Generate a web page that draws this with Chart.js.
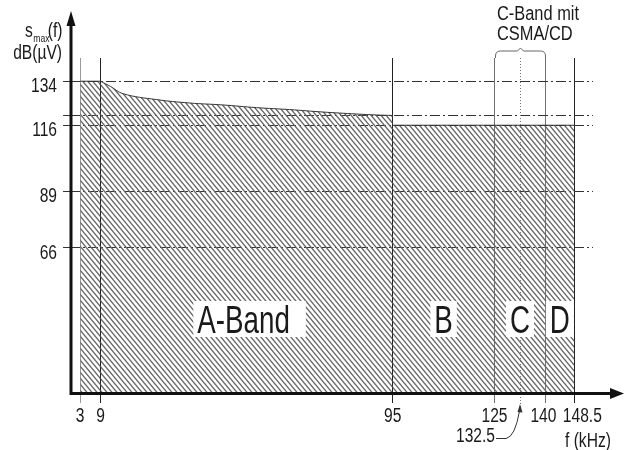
<!DOCTYPE html>
<html>
<head>
<meta charset="utf-8">
<script src="https://cdn.jsdelivr.net/npm/chart.js@4.4.0/dist/chart.umd.min.js"></script>
<style>
    html, body { margin: 0; padding: 0; background: #fff; }
    #chrtLimits { display: block; }
</style>
</head>
<body>
<canvas id="chrtLimits" width="630" height="450"></canvas>
<script>
// values (CENELEC EN 50065 band limits)
const xTicks = [3, 9, 95, 125, 140, 148.5];
const yTicks = [66, 89, 116, 120, 134];
const yTickLabels = ["66", "89", "116", "", "134"];
const bandNames = ["A-Band", "B", "C", "D"];
const bandEdges = [9, 95, 125, 140, 148.5];
const csmaFreq = 132.5;

// A-Band below 9 kHz
const lowFreqs = [3, 9];
const lowLevels = [134, 134];
// A-Band 9..95 kHz, falling limit
const curveFreqs = [9, 12, 15.6, 25.4, 35.2, 45, 54.9, 64.7, 74.5, 84.3, 90.2, 95];
const curveLevels = [134, 131.8, 128.9, 126.5, 125.1, 124.3, 123.2, 122.4, 121.4, 120.6, 120.2, 120];
// B, C, D bands
const upperFreqs = [95, 148.5];
const upperLevels = [116, 116];

((d) => {
    const CHRT = d.getElementById("chrtLimits");
    const FONT = '"Liberation Sans", Arial, sans-serif';
    const INK = "#1a1a1a";
    const SQ = 0.78; // the drawing uses a condensed face

    function toXY(xs, ys) {
        return xs.map((v, i) => ({ x: v, y: ys[i] }));
    }

    function makeHatch() {
        const w = 5, h = 6;
        const c = d.createElement("canvas");
        c.width = w; c.height = h;
        const g = c.getContext("2d");
        g.strokeStyle = "#666";
        g.lineWidth = 1.35;
        g.beginPath();
        for (const [ox, oy] of [[0, 0], [-w, 0], [w, 0], [0, -h], [0, h]]) {
            g.moveTo(ox, oy);
            g.lineTo(ox + w, oy + h);
        }
        g.stroke();
        return g.createPattern(c, "repeat");
    }
    const hatch = makeHatch();

    function areaSet(label, xs, ys, tension) {
        return {
            label: label,
            data: toXY(xs, ys),
            fill: "start",
            backgroundColor: hatch,
            borderColor: "#333",
            borderWidth: 1,
            pointRadius: 0,
            tension: tension
        };
    }

    function txt(ctx, s, x, y, size, align, sx) {
        ctx.save();
        ctx.font = size + "px " + FONT;
        ctx.textAlign = align || "left";
        ctx.textBaseline = "alphabetic";
        ctx.translate(x, y);
        ctx.scale(sx || SQ, 1);
        ctx.fillText(s, 0, 0);
        ctx.restore();
    }

    const decor = {
        id: "decor",
        afterDraw(chart) {
            const { ctx, chartArea: ca, scales: { x, y } } = chart;
            ctx.save();
            ctx.fillStyle = INK;

            // CSMA/CD centre line (dotted)
            const xc = Math.round(x.getPixelForValue(csmaFreq)) + 0.5;
            ctx.strokeStyle = "#777";
            ctx.lineWidth = 1;
            ctx.setLineDash([1, 2]);
            ctx.beginPath();
            ctx.moveTo(xc, ca.top);
            ctx.lineTo(xc, ca.bottom + 14);
            ctx.stroke();
            ctx.setLineDash([]);

            // bracket over C band
            const xl = Math.round(x.getPixelForValue(bandEdges[2])) + 0.5,
                xr = Math.round(x.getPixelForValue(bandEdges[3])) + 0.5,
                yt = ca.top - 7, r = 5;
            ctx.strokeStyle = "#666";
            ctx.beginPath();
            ctx.moveTo(xl, ca.top);
            ctx.lineTo(xl, yt + r);
            ctx.quadraticCurveTo(xl, yt, xl + r, yt);
            ctx.lineTo(xc - 3, yt);
            ctx.lineTo(xc, yt - 3);
            ctx.lineTo(xc + 3, yt);
            ctx.lineTo(xr - r, yt);
            ctx.quadraticCurveTo(xr, yt, xr, yt + r);
            ctx.lineTo(xr, ca.top);
            ctx.stroke();

            // band names on white boxes
            const base = ca.bottom - 60, bsx = 0.73;
            ctx.font = "38px " + FONT;
            for (let i = 0; i < bandNames.length; i++) {
                const cx = x.getPixelForValue((bandEdges[i] + bandEdges[i + 1]) / 2) - (i == 0 ? 3 : 0);
                const w = ctx.measureText(bandNames[i]).width * bsx;
                const extra = i == 0 ? 12 : 0;
                ctx.fillStyle = "#fff";
                ctx.fillRect(cx - w / 2 - 4, base - 32, w + 8 + extra, 36);
                ctx.fillStyle = INK;
                txt(ctx, bandNames[i], cx, base, 38, "center", bsx);
            }

            // tick labels, taken from the scales (last two pushed apart as in the drawing)
            for (const t of x.ticks) {
                const nudge = t.value == 148.5 ? 8 : (t.value == 140 ? -2 : 0);
                txt(ctx, String(t.value), x.getPixelForValue(t.value) + nudge, ca.bottom + 29, 20, "center");
            }
            for (const t of y.ticks) {
                const lab = yTickLabels[yTicks.indexOf(t.value)];
                if (lab) txt(ctx, lab, ca.left - 13, y.getPixelForValue(t.value) + 11, 20, "right");
            }

            // axes with arrow heads
            const ax = ca.left + 1, ay = ca.bottom + 0.5;
            ctx.strokeStyle = "#111";
            ctx.fillStyle = "#111";
            ctx.lineWidth = 3;
            ctx.beginPath();
            ctx.moveTo(ax, ay + 1.5);
            ctx.lineTo(ax, 24);
            ctx.moveTo(ax - 1.5, ay);
            ctx.lineTo(612, ay);
            ctx.stroke();
            ctx.beginPath();
            ctx.moveTo(ax, 11);
            ctx.lineTo(ax - 4.5, 26);
            ctx.lineTo(ax + 4.5, 26);
            ctx.closePath();
            ctx.fill();
            ctx.beginPath();
            ctx.moveTo(624, ay);
            ctx.lineTo(610, ay - 5.5);
            ctx.lineTo(610, ay + 5.5);
            ctx.closePath();
            ctx.fill();

            // axis titles and notes
            ctx.fillStyle = INK;
            txt(ctx, "s", 25, 37, 20);
            txt(ctx, "max", 33.3, 41.5, 11);
            txt(ctx, "(f)", 47.7, 37, 20);
            txt(ctx, "dB(\u00b5V)", 62, 59.3, 20, "right");
            txt(ctx, "C-Band mit", 497, 20, 20, "left", 0.82);
            txt(ctx, "CSMA/CD", 497, 40, 20, "left", 0.82);
            txt(ctx, "f (kHz)", 565, 447, 20);
            txt(ctx, "132.5", 495, 442, 20, "right");

            // leader to 132.5
            ctx.strokeStyle = "#333";
            ctx.lineWidth = 1;
            ctx.beginPath();
            ctx.moveTo(496, 438.5);
            ctx.lineTo(506, 438.5);
            ctx.quadraticCurveTo(515, 437, 519.5, 411);
            ctx.stroke();
            ctx.fillStyle = "#333";
            ctx.beginPath();
            ctx.moveTo(xc - 0.5, 404);
            ctx.lineTo(517.5, 412);
            ctx.lineTo(522.5, 412.5);
            ctx.closePath();
            ctx.fill();

            ctx.restore();
        }
    };

    new Chart(CHRT, {
        type: "line",
        data: {
            datasets: [
                areaSet("A-Band < 9 kHz", lowFreqs, lowLevels, 0),
                areaSet("A-Band", curveFreqs, curveLevels, 0.4),
                areaSet("B, C, D", upperFreqs, upperLevels, 0)
            ]
        },
        options: {
            responsive: false,
            animation: false,
            layout: { padding: { top: 58, right: 37, left: 0, bottom: 0 } },
            plugins: {
                legend: { display: false },
                tooltip: { enabled: false }
            },
            scales: {
                x: {
                    type: "linear",
                    min: 0,
                    max: 154,
                    afterBuildTicks: s => { s.ticks = xTicks.map(v => ({ value: v })); },
                    afterFit: s => { s.height = 57; },
                    ticks: { display: false, autoSkip: false },
                    grid: {
                        color: c => {
                            const v = c.tick ? c.tick.value : 0;
                            if (v == 3) return "#9a9a9a";
                            if (v == 125 || v == 140) return "#707070";
                            return "#222";
                        },
                        lineWidth: 1,
                        tickLength: 10
                    },
                    border: { display: false }
                },
                y: {
                    min: 6.5,
                    max: 143.5,
                    afterBuildTicks: s => { s.ticks = yTicks.map(v => ({ value: v })); },
                    afterFit: s => { s.width = 70; },
                    ticks: { display: false, autoSkip: false },
                    grid: { color: "#333", lineWidth: 1, tickLength: 7 },
                    border: { display: false, dash: [10, 3, 2, 3] }
                }
            }
        },
        plugins: [decor]
    });
})(document);
</script>
</body>
</html>
